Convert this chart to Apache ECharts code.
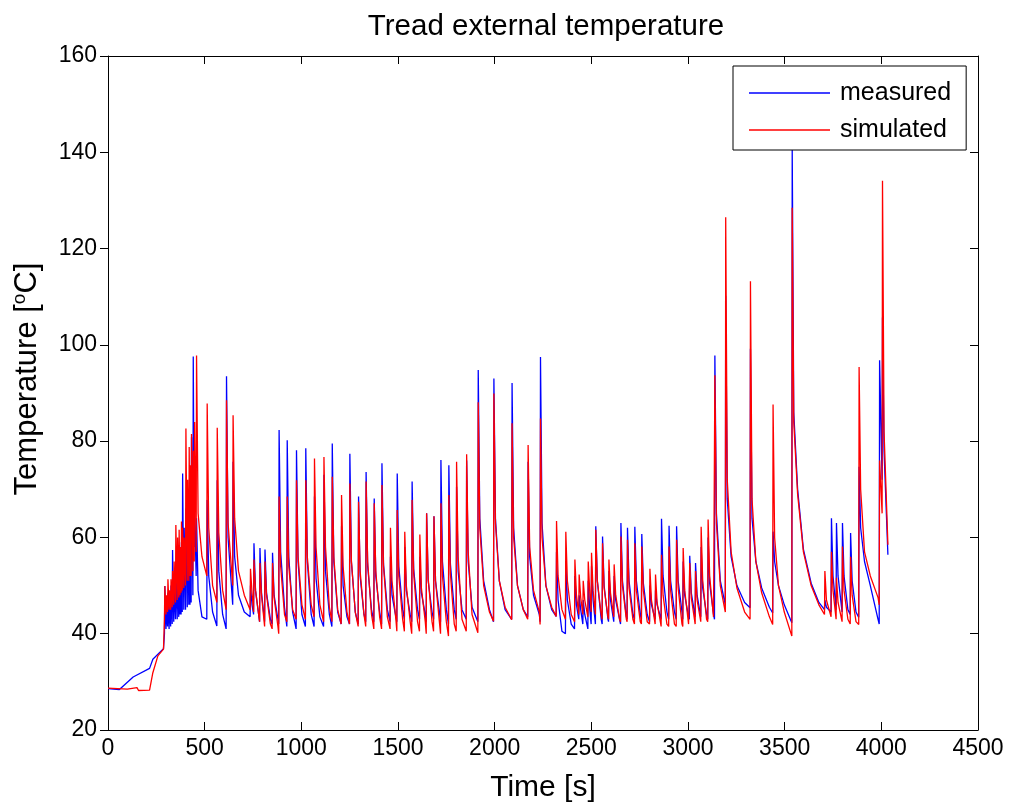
<!DOCTYPE html>
<html>
<head>
<meta charset="utf-8">
<script src="https://cdn.jsdelivr.net/npm/echarts@6/dist/echarts.min.js"></script>
<style>html,body{margin:0;padding:0;background:#fff}#chart{width:1013px;height:808px}</style>
</head>
<body>
<div id="chart"></div>
<script>
// ---- data ----
const xTicks = [0, 500, 1000, 1500, 2000, 2500, 3000, 3500, 4000, 4500];
const yTicks = [20, 40, 60, 80, 100, 120, 140, 160];
const seriesNames = ['measured', 'simulated'];

// offsets (s) after a spike start at which decay values are given
const decayOffsets = [10, 30, 60, 100, 140];

// warm-up part [time, temp]
const measuredWarmup = [[0,28.6],[59,28.4],[130,31],[215,32.8],[232,34.7],[287,36.9]];
const simulatedWarmup = [[0,28.7],[100,28.5],[150,28.8],[158,28.2],[215,28.3],[232,31.9],[258,35.4],[287,36.8]];

// spike rows: [start time, value before spike, peak, decay values...]
const measuredRise = [
  [292,40,49.9],[300,41,46],[308,41.5,48.5],[316,41,47],[324,41.5,50],[332,42,57.4],
  [340,42.5,50],[349,43,53],[358,43,55],[366,43.5,58],[372,44,55],[378,44,59],
  [384,44.5,73.3],[392,45,62],[401,45,66],[410,45.5,64],[418,46,70],[424,46,68],
  [430,46.5,80.8],[439,48,97.6],[446,58,66],[456,52,64,49,43.5]
];
const simulatedRise = [
  [292,43,49.9],[300,44,48],[308,44.5,51.3],[316,45,49],[324,45,51.3],[332,45.5,53],
  [340,46,55],[349,46.5,62.6],[358,47,60],[366,47.5,61.6],[372,48,58],[378,48.5,63.3],
  [384,49,62],[392,49.5,60],[401,50,82.6],[410,51,72],[418,51,78.8],[424,52,75],
  [430,52,81.5],[439,53,78],[446,55,84],[456,57,97.8,65,56]
];
const measuredMiddle = [
  [511,43,67.8,52,44.5],[563,41.6,71.9,53,44],[611,41,93.5,60],[645,46,75.7,56,48,44.5],
  [735,43.5,50,46],[753,44,58.8,49],[784,42.5,57.8,48.5],[810,42.5,57.5,48.5,43],
  [849,42,56.8,48,43],[883,42,82.3,57,45.5],[925,41.5,80.2,56,44.5],[973,41,78.1,55,44],
  [1021,41.5,78.5,55,44],[1066,41.5,68.5,51.5,43.5],[1115,41.5,73,53,44],[1158,41.5,79.5,55,44.5],
  [1206,42,62.3,50,43.5],[1249,42,77.4,55,44.5],[1294,42,68.5,52,44],[1333,42.5,73.6,54,45],
  [1375,42.5,68.1,52,44.5],[1415,42,75.4,54.5,45],[1459,42.5,56,48,43.5],[1494,42.5,73.3,54,45],
  [1533,43,58,49,44],[1571,42.5,71.6,53.5,45],[1611,43,56,48.5,44],[1646,42.5,65,51,44.5],
  [1684,43,64.4,51,44.5],[1720,42.5,76.1,55,45],[1761,42,75,54.5,45],[1801,43,70.5,53,45],
  [1853,43,76,55,45.5],[1913,42.5,94.8,64,51,45],[1994,42.5,93,64,51,45],[2088,43,92.1,62,50,45],
  [2171,43.5,75.7,56,48,44],[2235,42.5,97.5,63,50,45]
];
const simulatedMiddle = [
  [511,52,87.8,62,50],[563,46.5,82.8,61,49],[611,45,88.5,63],[645,50,85.4,64,53,48],
  [735,45,53.5,48.5],[753,44.5,55.4,49],[784,42.5,54.7,48],[810,41.5,55,48,42],
  [849,41,54.7,47.5,41.5],[883,40,68.5,54,44],[925,42.5,68.5,54,45],[973,43,71.9,56,46],
  [1021,43,71.9,56,46],[1066,43.5,76.4,58,46],[1115,42.5,76.7,58,45.5],[1158,42.5,72.6,56,45],
  [1206,42,68.8,54,44.5],[1249,42,71.2,55,44.5],[1294,41.5,67.4,53,44],[1333,41.5,71.6,55,44],
  [1375,41,67.1,53,43.5],[1415,41,70.9,54,43.5],[1459,41,62,51,43],[1494,40.5,65.7,52,43],
  [1533,40.5,61.2,50,42.5],[1571,40,67.8,52.5,42.5],[1611,40.5,60.6,49.5,42.5],[1646,40,65,51.5,42.5],
  [1684,40.5,64.4,51,42.5],[1720,40,67.1,52,42.5],[1761,39.5,68.8,52.5,42],[1801,40.5,75.7,56,43],
  [1853,40.5,77.3,57,44],[1913,40.2,88.1,62,50,44.5],[1994,42.6,89.9,63,51,45.5],[2088,42.9,83.7,60,50,45],
  [2171,43,79.2,58,49,44.5],[2235,41.9,84.7,60,50,45.5]
];
const measuredLate = [
  [2318,43.6,57,47,40.5],[2366,40,55,47,42],[2413,41,52,46],[2435,43,48,45],[2456,42,47,44],
  [2482,41,51,45],[2499,42,54,47],[2521,42,62.3,51,43],[2556,42,60.2,50,43],[2589,42.5,53,47],
  [2616,42.5,52,47,43],[2651,42,63,51,43.5],[2685,43,62,51,44],[2723,43,62.2,51,44],
  [2759,43,60.7,50.5,44],[2801,42.5,50,46],[2830,43,49,46],[2861,43,63.9,52,44.5],
  [2900,43,62.4,51,44.5],[2939,43,62.3,51,44.5],[2973,43,55,48,43.5],[3007,43,56.2,48.5],
  [3037,43.5,54.7,48],[3066,43.5,58,49.5,44],[3102,43,60,50.5,44]
];
const simulatedLate = [
  [2318,43.6,63.4,52,45],[2366,43,61.2,51,44],[2413,42.5,55.4,48],[2435,44,52.3,47.5],[2456,44,51,47],
  [2482,43.5,55,48.5],[2499,44.5,56.8,49],[2521,44,61.6,51,44],[2556,43,58.8,49.5,43.5],[2589,43,55.4,48.5],
  [2616,43.5,54.4,48,43],[2651,42.5,60.2,50,43],[2685,42.5,59.5,49.5,43],[2723,42,58.8,49,42.5],
  [2759,42,58.1,49,42.5],[2801,42,53.5,47],[2830,42,52.3,46.5],[2861,41.5,56.4,48,42],
  [2900,41.5,58.1,49,42],[2939,41.5,59.5,49.5,42],[2973,41.5,57.8,49,42],[3007,42,54.7,47.5],
  [3037,42,53,47],[3066,42.5,62.2,51,43],[3102,42.5,63.7,52,43.5]
];
const measuredEnd = [
  [3137,43,97.8,65,51],[3193,46,110.2,68,56,50,46.5],[3321,45.4,99.2,64,55,49.5,45.5],
  [3438,44.3,61.2,55,50,46],[3537,42.3,140.5,86,70,57.5,50.5,46.5],[3706,45,47,45.5],
  [3740,44.5,64,52],[3766,45,63,52],[3797,44.5,63,52,45],[3839,44,60.9,51,44.5],
  [3883,43.4,74.7,62,55,50,43],[3989,42,96.8],[4004,72,105.7,78,56.4]
];
const simulatedEnd = [
  [3137,43.5,93.7,63,50],[3193,44.5,126.5,72,57,49.5,44.5],[3321,43,113.2,68,55,48.5,43.5],
  [3438,41.9,87.6,60,50,44.5],[3537,39.5,128.5,84,69,57,50,46],[3706,44,53,47],
  [3740,43.5,57,49],[3766,43,51.6,46.5],[3797,42.5,58.1,49,43],[3839,42,56,48,42.5],
  [3883,41.9,95.4,70,57,52,47.5],[3989,46,76],[4004,65,134.1,82,58.5]
];

function buildLine(warmup, groups) {
  const pts = warmup.map(p => p.slice());
  groups.forEach(g => g.forEach(row => {
    const [t, base, peak, ...decay] = row;
    pts.push([t, base]);
    pts.push([t + 2, peak]);
    decay.forEach((v, k) => pts.push([t + decayOffsets[k], v]));
  }));
  return pts;
}
const measuredData = buildLine(measuredWarmup, [measuredRise, measuredMiddle, measuredLate, measuredEnd]);
const simulatedData = buildLine(simulatedWarmup, [simulatedRise, simulatedMiddle, simulatedLate, simulatedEnd]);

const FONT = '"Liberation Sans", Arial, Helvetica, sans-serif';
const chart = echarts.init(document.getElementById('chart'), null, {renderer: 'canvas'});
const xMin = xTicks[0], xMax = xTicks[xTicks.length - 1], xStep = xTicks[1] - xTicks[0];
const yMin = yTicks[0], yMax = yTicks[yTicks.length - 1], yStep = yTicks[1] - yTicks[0];
const axisLine = {show: true, onZero: false, lineStyle: {color: '#000', width: 1}};
const plain = v => String(v);
chart.setOption({
  animation: false,
  backgroundColor: '#fff',
  title: {
    text: 'Tread external temperature',
    left: 541, top: 7, textAlign: 'center',
    textStyle: {fontFamily: FONT, fontSize: 29.5, fontWeight: 'normal', color: '#000'}
  },
  grid: {left: 108, right: 35, top: 56, bottom: 76, containLabel: false},
  legend: {
    data: seriesNames.map(n => ({name: n, icon: 'rect'})),
    orient: 'vertical',
    left: 733, top: 66,
    padding: [13, 15, 6, 16],
    itemGap: 9,
    itemWidth: 81, itemHeight: 1.3,
    borderColor: '#000', borderWidth: 1,
    backgroundColor: '#fff',
    textStyle: {fontFamily: FONT, fontSize: 25, color: '#000', lineHeight: 28, padding: [0, 0, 0, 5]}
  },
  xAxis: [{
    type: 'value', position: 'bottom', min: xMin, max: xMax, interval: xStep,
    axisLine: axisLine,
    axisTick: {show: true, inside: true, length: 8, lineStyle: {color: '#000'}},
    axisLabel: {fontFamily: FONT, fontSize: 23, color: '#000', margin: 7, formatter: plain},
    splitLine: {show: false},
    name: 'Time [s]', nameLocation: 'middle', nameGap: 43,
    nameTextStyle: {fontFamily: FONT, fontSize: 30, color: '#000'}
  }, {
    type: 'value', position: 'top', min: xMin, max: xMax, interval: xStep,
    axisLine: axisLine,
    axisTick: {show: true, inside: true, length: 8, lineStyle: {color: '#000'}},
    axisLabel: {show: false}, splitLine: {show: false}
  }],
  yAxis: [{
    type: 'value', position: 'left', min: yMin, max: yMax, interval: yStep,
    axisLine: axisLine,
    axisTick: {show: true, inside: false, length: 8, lineStyle: {color: '#000'}},
    axisLabel: {fontFamily: FONT, fontSize: 23, color: '#000', margin: 11, formatter: plain},
    splitLine: {show: false},
    name: 'Temperature [{sup|o}C]', nameLocation: 'middle', nameGap: 64, nameRotate: 90,
    nameTextStyle: {
      fontFamily: FONT, fontSize: 31, color: '#000', padding: [0, 0, 0, 28],
      rich: {sup: {fontFamily: FONT, fontSize: 19, color: '#000', padding: [0, 0, 15, 0]}}
    }
  }, {
    type: 'value', position: 'right', min: yMin, max: yMax, interval: yStep,
    axisLine: axisLine,
    axisTick: {show: true, inside: true, length: 8, lineStyle: {color: '#000'}},
    axisLabel: {show: false}, splitLine: {show: false}
  }],
  series: [{
    name: seriesNames[0], type: 'line', data: measuredData,
    xAxisIndex: 0, yAxisIndex: 0,
    symbol: 'none', showSymbol: false, sampling: null,
    lineStyle: {color: '#0000ff', width: 1.3}, itemStyle: {color: '#0000ff'}
  }, {
    name: seriesNames[1], type: 'line', data: simulatedData,
    xAxisIndex: 0, yAxisIndex: 0,
    symbol: 'none', showSymbol: false, sampling: null,
    lineStyle: {color: '#ff0000', width: 1.3}, itemStyle: {color: '#ff0000'}
  }]
});
</script>
</body>
</html>
